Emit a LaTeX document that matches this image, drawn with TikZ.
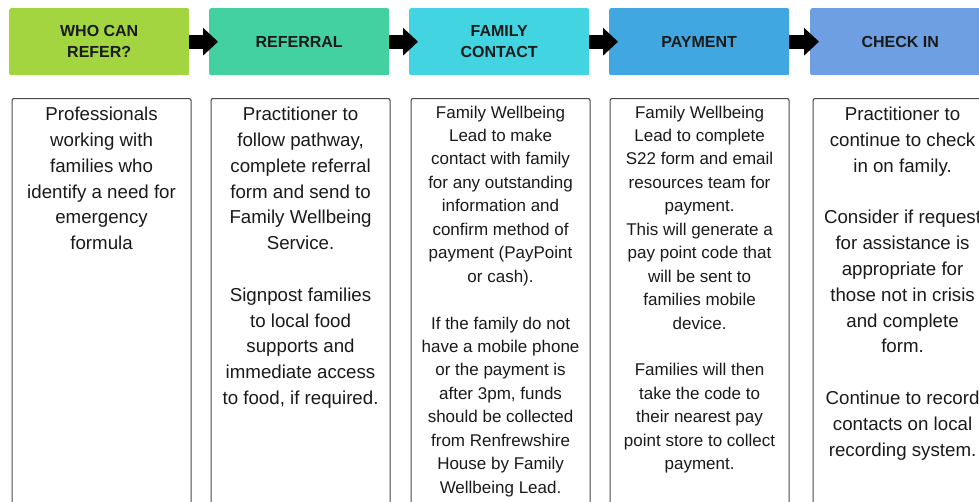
\documentclass[tikz,border=0pt]{standalone}
\usepackage{fontspec}
\setmainfont{Liberation Sans}
\usetikzlibrary{arrows.meta}
\definecolor{hA}{HTML}{A2D53F}
\definecolor{hB}{HTML}{43D1A2}
\definecolor{hC}{HTML}{42D4E0}
\definecolor{hD}{HTML}{41A7E0}
\definecolor{hE}{HTML}{6E9FE2}
\definecolor{boxline}{HTML}{4A4A4A}
\definecolor{txt}{HTML}{1A1A1A}
\begin{document}
\begin{tikzpicture}[x=1pt,y=-1pt,
  header/.style={rounded corners=2pt, inner sep=0pt, minimum width=180pt,
    minimum height=67pt, anchor=north west, text=txt, align=center,
    font=\bfseries\fontsize{16}{21}\selectfont},
  panel/.style={draw=boxline, line width=1.1pt, rounded corners=2pt, inner sep=0pt,
    minimum width=179pt, minimum height=430pt, anchor=north west},
  bodytext/.style={anchor=north, inner sep=0pt, align=center, text=txt,
    font=\fontsize{18.7}{25.8}\selectfont},
  smalltext/.style={anchor=north, inner sep=0pt, align=center, text=txt,
    font=\fontsize{17}{23.45}\selectfont},
  flow/.style={line width=14pt, draw=black, -{Triangle[length=15pt,width=27pt]}, shorten >=-9pt}
]
\useasboundingbox (0,0) rectangle (979,501);
\clip (0,0) rectangle (979,501);
\fill[white] (0,0) rectangle (979,501);

% headers
\node[header, fill=hA] (h1) at (9,8) {WHO CAN\\REFER?};
\node[header, fill=hB] (h2) at (209,8) {REFERRAL};
\node[header, fill=hC] (h3) at (409,8) {FAMILY\\CONTACT};
\node[header, fill=hD] (h4) at (609,8) {PAYMENT};
\node[header, fill=hE] (h5) at (810,8) {CHECK IN};

% arrows
\draw[flow] (h1.east) -- (h2.west);
\draw[flow] (h2.east) -- (h3.west);
\draw[flow] (h3.east) -- (h4.west);
\draw[flow] (h4.east) -- (h5.west);

% panels
\node[panel] (b1) at (11.5,98) {};
\node[panel] (b2) at (210.5,98) {};
\node[panel] (b3) at (410.5,98) {};
\node[panel] (b4) at (609.5,98) {};
\node[panel] (b5) at (812.5,98) {};

% texts
\node[bodytext] (t1) at ([yshift=-9pt]b1.north) {Professionals\\working with\\families who\\identify a need for\\emergency\\formula};
\node[bodytext] (t2) at ([yshift=-9pt]b2.north) {Practitioner to\\follow pathway,\\complete referral\\form and send to\\Family Wellbeing\\Service.\\[25.8pt]Signpost families\\to local food\\supports and\\immediate access\\to food, if required.};
\node[smalltext] (t3) at ([yshift=-7.5pt]b3.north) {Family Wellbeing\\Lead to make\\contact with family\\for any outstanding\\information and\\confirm method of\\payment (PayPoint\\or cash).\\[23.45pt]If the family do not\\have a mobile phone\\or the payment is\\after 3pm, funds\\should be collected\\from Renfrewshire\\House by Family\\Wellbeing Lead.};
\node[smalltext] (t4) at ([yshift=-7.5pt]b4.north) {Family Wellbeing\\Lead to complete\\S22 form and email\\resources team for\\payment.\\This will generate a\\pay point code that\\will be sent to\\families mobile\\device.\\[23.45pt]Families will then\\take the code to\\their nearest pay\\point store to collect\\payment.};
\node[bodytext] (t5) at ([yshift=-9pt]b5.north) {Practitioner to\\continue to check\\in on family.\\[25.8pt]Consider if request\\for assistance is\\appropriate for\\those not in crisis\\and complete\\form.\\[25.8pt]Continue to record\\contacts on local\\recording system.};
\end{tikzpicture}
\end{document}
